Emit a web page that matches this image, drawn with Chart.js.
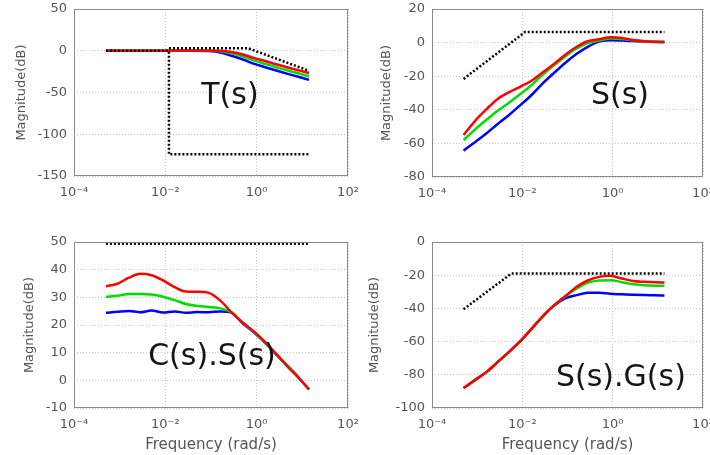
<!DOCTYPE html>
<html>
<head>
<meta charset="utf-8">
<script src="https://cdn.jsdelivr.net/npm/chart.js@4.4.1/dist/chart.umd.min.js"></script>
<style>
body { margin: 0; background: #fff; width: 710px; height: 455px; position: relative; overflow: hidden; }
.panel { position: absolute; }
</style>
</head>
<body>
<div class="panel" style="left:0;top:0;width:360px;height:225px"><canvas id="cT"></canvas></div>
<div class="panel" style="left:355px;top:0;width:355px;height:225px"><canvas id="cS"></canvas></div>
<div class="panel" style="left:0;top:225px;width:360px;height:230px"><canvas id="cCS"></canvas></div>
<div class="panel" style="left:355px;top:225px;width:355px;height:230px"><canvas id="cSG"></canvas></div>
<script>
// frequency grid (rad/s) shared by the coloured curves
var freq = [5.0e-4, 8.9e-4, 1.6e-3, 2.8e-3, 5.0e-3, 8.9e-3, 1.6e-2, 2.8e-2, 5.0e-2, 8.9e-2,
            0.16, 0.28, 0.5, 0.89, 1.6, 2.8, 5.0, 8.9, 14];

var xTicks = [1e-4, 1e-2, 1, 1e2];
var xTickLabels = ['10\u207B\u2074', '10\u207B\u00B2', '10\u2070', '10\u00B2'];

// T(s)
var tRed   = [0, 0, 0, 0, 0, 0, 0, 0, 0, 0, 0, -1.5, -4.5, -8.8, -12.5, -16.5, -20.3, -23.8, -26.6];
var tGreen = [0, 0, 0, 0, 0, 0, 0, 0, 0, 0, -0.5, -3, -7, -11.8, -16, -20, -24, -27.5, -30.6];
var tBlue  = [0, 0, 0, 0, 0, 0, 0, 0, 0, -0.3, -2, -6, -10.5, -15.8, -20, -24, -28, -31.8, -34.7];
var tBoundLowFreq = [5e-4, 0.012, 0.012, 14];
var tBoundLowMag  = [0, 0, -124, -124];
var tBoundHighFreq = [0.012, 0.65, 14];
var tBoundHighMag  = [3, 3, -24];

// S(s)
var sRed   = [-55, -46.7, -39.7, -33.7, -29.6, -26.3, -22.7, -17.8, -12.8, -7.2, -2.5, 0.8, 2, 3.2, 2.8, 1.5, 0.8, 0.5, 0.3];
var sGreen = [-58, -51.8, -46, -40.7, -35.9, -30.8, -25.3, -19.2, -13.5, -8.2, -3.5, -0.3, 1.2, 2.4, 2.2, 1.4, 0.8, 0.5, 0.3];
var sBlue  = [-64.3, -59.3, -54.1, -48.6, -43.2, -37.4, -31.2, -24.4, -18.1, -12.1, -6.7, -2.5, 0.6, 1.4, 1.2, 0.9, 0.6, 0.4, 0.3];
var sBoundFreq = [5e-4, 0.0115, 14];
var sBoundMag  = [-21.6, 6.3, 6.3];

// C(s).S(s)
var csRed   = [34, 34.9, 37.1, 38.5, 38.0, 36.1, 33.7, 32.1, 32, 31.6, 28.8, 24.6, 20.8, 17.5, 13.5, 9.2, 4.8, 0.4, -3.3];
var csGreen = [30.2, 30.6, 31.2, 31.2, 31, 30.2, 29, 27.6, 26.9, 26.5, 26, 24.6, 20.8, 17.4, 13.4, 9.1, 4.7, 0.4, -3.3];
var csBlue  = [24.4, 24.8, 25.1, 24.6, 25.2, 24.5, 24.9, 24.4, 24.7, 24.6, 24.9, 24.5, 20.5, 17.2, 13.2, 9.0, 4.6, 0.4, -3.3];
var csBoundFreq = [5e-4, 14];
var csBoundMag  = [49.4, 49.4];

// S(s).G(s)
var sgRed   = [-88, -83.2, -78.4, -72.5, -66.3, -59.9, -52.3, -44.9, -38.2, -32.7, -27, -23.2, -21, -20.4, -22, -23.5, -24, -24.3, -24.4];
var sgGreen = [-88, -83.2, -78.4, -72.5, -66.3, -59.9, -52.3, -44.9, -38.2, -32.8, -28, -24.6, -23.2, -23, -24.2, -25.5, -26, -26.3, -26.4];
var sgBlue  = [-88, -83.2, -78.4, -72.5, -66.3, -59.9, -52.3, -44.9, -38.4, -34, -32, -30.6, -30.6, -31.2, -31.5, -31.8, -32, -32.1, -32.2];
var sgBoundFreq = [5e-4, 5.7e-3, 14];
var sgBoundMag  = [-40.5, -19, -19];

var FONT = 'DejaVu Sans';
var GREY = '#555';

function curve(f, m, color) {
  return {
    data: f.map(function (v, i) { return { x: v, y: m[i] }; }),
    borderColor: color, borderWidth: 2.5, pointRadius: 0,
    cubicInterpolationMode: 'monotone', fill: false
  };
}
function bound(f, m) {
  return {
    data: f.map(function (v, i) { return { x: v, y: m[i] }; }),
    borderColor: '#000', borderWidth: 2.5, borderDash: [2, 2], pointRadius: 0,
    tension: 0, fill: false
  };
}

// frame around plot area + big panel label
var frameLabel = {
  id: 'frameLabel',
  afterDatasetsDraw: function (chart, args, opts) {
    var a = chart.chartArea, ctx = chart.ctx;
    ctx.save();
    ctx.strokeStyle = '#8a8a8a';
    ctx.lineWidth = 1;
    ctx.strokeRect(a.left + 0.5, a.top + 0.5, a.width - 1, a.height - 1);
    ctx.font = '30px "' + FONT + '"';
    ctx.fillStyle = '#151515';
    ctx.textAlign = 'center';
    ctx.textBaseline = 'middle';
    ctx.fillText(opts.text, chart.scales.x.getPixelForValue(opts.x), chart.scales.y.getPixelForValue(opts.y));
    ctx.restore();
  }
};

function panel(id, p) {
  new Chart(document.getElementById(id), {
    type: 'line',
    data: { datasets: p.datasets },
    plugins: [frameLabel],
    options: {
      responsive: true,
      maintainAspectRatio: false,
      animation: false,
      events: [],
      layout: { padding: { top: p.padTop, right: p.padRight, bottom: 0, left: 0 } },
      plugins: {
        legend: { display: false },
        tooltip: { enabled: false },
        frameLabel: p.label
      },
      scales: {
        x: {
          type: 'logarithmic', min: 1e-4, max: 1e2,
          afterBuildTicks: function (s) { s.ticks = xTicks.map(function (v) { return { value: v }; }); },
          afterFit: function (s) { s.height = p.xAxisH; s.paddingLeft = 0; s.paddingRight = 0; },
          ticks: {
            autoSkip: false, maxRotation: 0, padding: 9, color: GREY,
            font: { family: FONT, size: 13 },
            callback: function (v, i) { return xTickLabels[i]; }
          },
          grid: { color: '#c4c4c4', drawTicks: false },
          border: { display: false, dash: [1, 2] },
          title: {
            display: p.xTitle, text: 'Frequency (rad/s)', color: GREY,
            font: { family: FONT, size: 15 }, padding: { top: 0, bottom: 1 }
          }
        },
        y: {
          min: p.yMin, max: p.yMax,
          afterFit: function (s) { s.width = p.yAxisW; s.paddingTop = 0; s.paddingBottom = 0; },
          ticks: {
            stepSize: p.yStep, padding: 7, color: GREY,
            font: { family: FONT, size: 13 }
          },
          grid: { color: '#c4c4c4', drawTicks: false },
          border: { display: false, dash: [1, 2] },
          title: {
            display: true, text: 'Magnitude(dB)', color: GREY,
            font: { family: FONT, size: 13 }, padding: { top: p.yTitlePad, bottom: 0 }
          }
        }
      }
    }
  });
}

panel('cT', {
  datasets: [
    bound(tBoundLowFreq, tBoundLowMag), bound(tBoundHighFreq, tBoundHighMag),
    curve(freq, tRed, '#ff0000'), curve(freq, tGreen, '#00dd00'), curve(freq, tBlue, '#0000ff')
  ],
  yMin: -150, yMax: 50, yStep: 50, padTop: 9, padRight: 12, xAxisH: 49, yAxisW: 74,
  yTitlePad: 14, xTitle: false, label: { text: 'T(s)', x: 0.26, y: -55 }
});

panel('cS', {
  datasets: [
    bound(sBoundFreq, sBoundMag),
    curve(freq, sRed, '#ff0000'), curve(freq, sGreen, '#00dd00'), curve(freq, sBlue, '#0000ff')
  ],
  yMin: -80, yMax: 20, yStep: 20, padTop: 9, padRight: 7, xAxisH: 48, yAxisW: 77,
  yTitlePad: 24, xTitle: false, label: { text: 'S(s)', x: 1.45, y: -32 }
});

panel('cCS', {
  datasets: [
    bound(csBoundFreq, csBoundMag),
    curve(freq, csRed, '#ff0000'), curve(freq, csGreen, '#00dd00'), curve(freq, csBlue, '#0000ff')
  ],
  yMin: -10, yMax: 50, yStep: 10, padTop: 17, padRight: 12, xAxisH: 47, yAxisW: 74,
  yTitlePad: 22, xTitle: true, label: { text: 'C(s).S(s)', x: 0.105, y: 8.4 }
});

panel('cSG', {
  datasets: [
    bound(sgBoundFreq, sgBoundMag),
    curve(freq, sgRed, '#ff0000'), curve(freq, sgGreen, '#00dd00'), curve(freq, sgBlue, '#0000ff')
  ],
  yMin: -100, yMax: 0, yStep: 20, padTop: 17, padRight: 7, xAxisH: 47, yAxisW: 77,
  yTitlePad: 12, xTitle: true, label: { text: 'S(s).G(s)', x: 1.52, y: -82 }
});
</script>
</body>
</html>
